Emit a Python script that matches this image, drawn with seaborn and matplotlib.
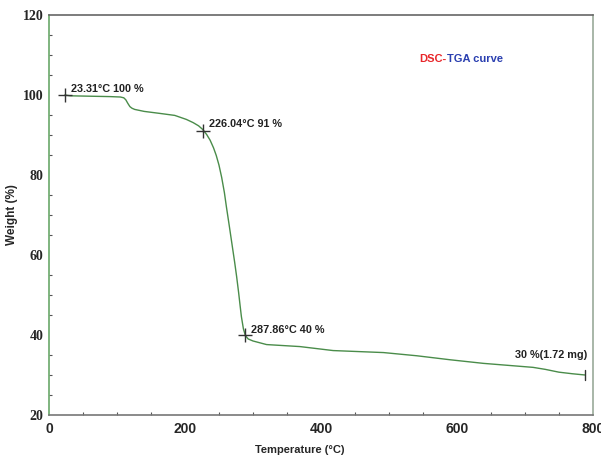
import numpy as np
import pandas as pd
import seaborn as sns
from matplotlib import pyplot as plt
from matplotlib.ticker import MultipleLocator

# TGA curve
temperature = [23.3, 31, 60, 90, 105, 110, 113, 116, 119, 122, 126, 140, 163, 185, 202,
               212, 220, 226, 232, 237, 242, 246, 250, 254, 258, 261, 265, 269, 273, 276,
               279, 281, 283, 286, 289, 293, 300, 320, 369, 418, 492, 541, 590, 639,
               712, 730, 750, 770, 788]
weight = [100, 99.8, 99.7, 99.6, 99.5, 99.3, 98.8, 97.9, 97.1, 96.7, 96.4, 95.9, 95.4, 94.9, 93.9,
          93.1, 92.3, 91.4, 90.1, 88.7, 86.8, 84.9, 82.5, 79.4, 75.6, 72.0, 67.5, 62.9, 58.3, 54.6,
          50.5, 47.5, 44.6, 41.5, 39.8, 39.0, 38.5, 37.6, 37.1, 36.1, 35.6, 34.8, 33.8, 32.9,
          31.9, 31.4, 30.7, 30.3, 30.0]

marker_temp = [23.31, 226.04, 287.86]
marker_weight = [100, 91, 40]
marker_labels = ["23.31°C 100 %", "226.04°C 91 %", "287.86°C 40 %"]

end_temp = 788
end_weight = 30
end_label = "30 %(1.72 mg)"

df = pd.DataFrame({"Temperature": temperature, "Weight": weight})
marks = pd.DataFrame({"Temperature": marker_temp, "Weight": marker_weight})

sns.set_style("white")
plt.rcParams['font.family'] = ['Liberation Sans', 'DejaVu Sans']

fig = plt.figure(figsize=(6.01, 4.55), dpi=100)
ax = fig.add_axes([0.0815, 0.088, 0.905, 0.879])

green = "#4a8c4a"
sns.lineplot(data=df, x="Temperature", y="Weight", ax=ax, color=green, linewidth=1.0)
sns.scatterplot(data=marks, x="Temperature", y="Weight", ax=ax, marker="+",
                s=90, color="#333333", linewidth=1.0, zorder=5)
ax.plot([end_temp, end_temp], [end_weight - 1.3, end_weight + 1.3], color="#333333", lw=1.0)

# annotations
offsets = [(9, 1.6), (9, 1.8), (9, 1.2)]
for t, w, lab, (dx, dy) in zip(marker_temp, marker_weight, marker_labels, offsets):
    ax.text(t + dx, w + dy, lab, fontsize=7.8, fontweight="bold", color="#222222",
            ha="left", va="center")
ax.text(end_temp + 3, end_weight + 5, end_label, fontsize=7.8, fontweight="bold",
        color="#222222", ha="right", va="center")

ax.text(585, 109, "DSC-", color="#e8262a", fontsize=8, fontweight="bold", ha="right", va="center")
ax.text(585, 109, "TGA curve", color="#2a3fb0", fontsize=8, fontweight="bold", ha="left", va="center")

ax.set_xlim(0, 800)
ax.set_ylim(20, 120)
ax.xaxis.set_major_locator(MultipleLocator(200))
ax.xaxis.set_minor_locator(MultipleLocator(50))
ax.yaxis.set_major_locator(MultipleLocator(20))
ax.yaxis.set_minor_locator(MultipleLocator(5))

ax.tick_params(axis="both", which="major", direction="out", length=3, width=0.8, color="#555555")
ax.tick_params(axis="both", which="minor", direction="in", length=2, width=0.8, color="#555555",
               left=True, bottom=True)
ax.tick_params(axis="x", labelsize=10, pad=2)
ax.tick_params(axis="y", labelsize=10, pad=1)
for lab in ax.get_xticklabels():
    lab.set_fontweight("bold")
for lab in ax.get_yticklabels():
    lab.set_fontfamily("Liberation Serif")
    lab.set_fontweight("bold")

ax.set_xlabel("Temperature (°C)", fontsize=8, fontweight="bold")
ax.set_ylabel("Weight (%)", fontsize=8.5, fontweight="bold")
ax.xaxis.set_label_coords(0.461, -0.075)
ax.yaxis.set_label_coords(-0.057, 0.5)

ax.spines["left"].set_color("#6aa86a")
ax.spines["top"].set_color("#666666")
ax.spines["right"].set_color("#9aaa9a")
ax.spines["bottom"].set_color("#777777")
for s in ax.spines.values():
    s.set_linewidth(1.2)

fig.savefig("out.png", dpi=100)
